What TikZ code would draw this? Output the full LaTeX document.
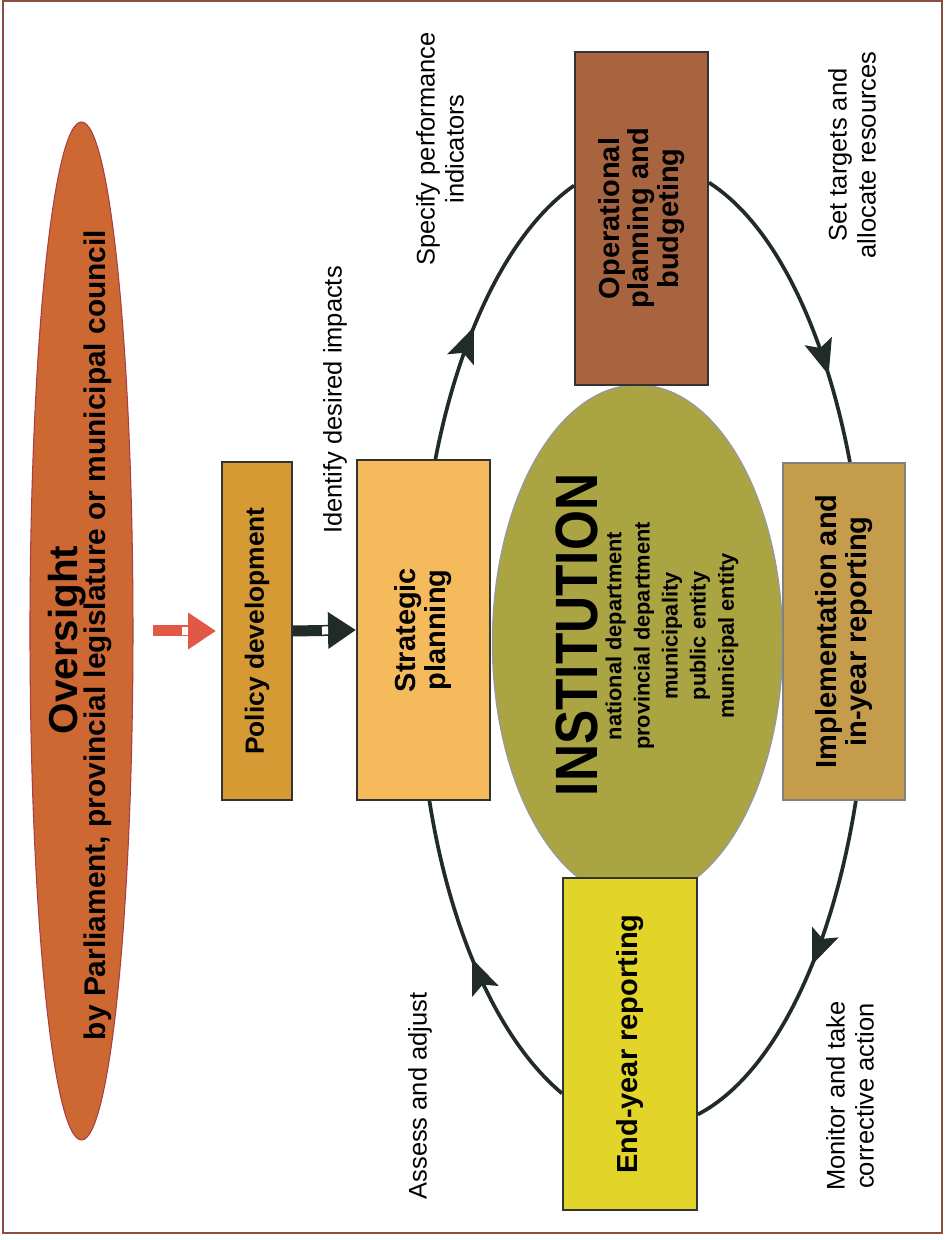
\documentclass[tikz,border=0pt]{standalone}
\usepackage{fontspec}
\setmainfont{Liberation Sans}
\newfontfamily\narrowfont[FakeStretch=0.86]{Liberation Sans}
\usepackage{tikz}
\usetikzlibrary{shapes.geometric,arrows.meta,decorations.markings,calc}

\definecolor{oversightfill}{RGB}{206,104,50}
\definecolor{oversightline}{RGB}{170,60,70}
\definecolor{redarrow}{RGB}{226,88,70}
\definecolor{darkarrow}{RGB}{34,44,38}
\definecolor{policyfill}{RGB}{214,154,52}
\definecolor{strategicfill}{RGB}{245,186,92}
\definecolor{institutionfill}{RGB}{170,164,66}
\definecolor{operationalfill}{RGB}{168,100,62}
\definecolor{implementfill}{RGB}{196,156,76}
\definecolor{endyearfill}{RGB}{226,212,40}
\definecolor{framecol}{RGB}{140,78,60}

\begin{document}
\begin{tikzpicture}[
    rotate=90, transform shape,
    box/.style={rectangle, draw=black!80, line width=1.1pt, align=center, inner sep=2pt,
        font=\fontsize{16.5}{17}\selectfont\bfseries},
    lbl/.style={align=center, inner sep=0pt, font=\fontsize{14.5}{16.5}\selectfont},
    loopline/.style={line width=2.1pt, color=darkarrow, postaction={decorate},
        decoration={markings, mark=at position #1 with {\arrow{Stealth[length=20pt,width=16pt,inset=4pt]}}}},
    blockarrow/.style={line width=0.22cm, -{Triangle[width=0.7cm,length=0.56cm]},
        postaction={decorate, decoration={markings,
            mark=at position -#1 with {\fill[white] (-0.06,-0.08) rectangle (0.06,0.08);}}}}
]
    \useasboundingbox (0,0) rectangle (24.8,18.94);
    \draw[framecol, line width=1.1pt] (0.14,0.1) rectangle (24.78,18.88);

    \node[ellipse, fill=oversightfill, draw=oversightline, line width=0.6pt, inner sep=0pt,
        minimum width=20.36cm, minimum height=2.06cm] (over) at (12.18,17.31) {};
    \node[font=\fontsize{23}{24}\selectfont\bfseries, inner sep=0pt] (overtitle) at (12.0,17.6) {Oversight};
    \node[font=\fontsize{17}{19}\selectfont\bfseries, inner sep=0pt] (oversub) at (12.1,16.98)
        {by Parliament, provincial legislature or municipal council};

    \node[box, fill=policyfill, minimum width=6.76cm, minimum height=1.4cm,
        font=\fontsize{15}{17}\selectfont\bfseries] (policy) at (12.18,13.8) {Policy development};
    \node[box, fill=strategicfill, minimum width=6.8cm, minimum height=2.66cm] (strat) at (12.2,10.47) {Strategic\\planning};

    \node[ellipse, fill=institutionfill, draw=gray!80, line width=0.8pt,
        minimum width=10.3cm, minimum height=5.8cm] (inst) at (11.95,6.19) {};
    \node[font=\narrowfont\fontsize{34}{36}\selectfont\bfseries, inner sep=0pt] (insttitle) at (12.1,7.4) {INSTITUTION};
    \node[align=center, inner sep=0pt, font=\fontsize{12.4}{16}\selectfont\bfseries] (instlist) at (12.08,5.5)
        {national department\\provincial department\\municipality\\public entity\\municipal entity};

    \node[box, fill=operationalfill, minimum width=6.66cm, minimum height=2.66cm] (oper) at (20.43,6.11) {Operational\\planning and\\budgeting};
    \node[box, fill=implementfill, draw=gray, minimum width=6.74cm, minimum height=2.44cm] (impl) at (12.17,2.06) {Implementation and\\in-year reporting};
    \node[box, fill=endyearfill, minimum width=6.64cm, minimum height=2.68cm] (endyr) at (3.92,6.34) {End-year reporting};

    \node[lbl] (impacts) at (16.8,12.24) {Identify desired impacts};
    \node[lbl] (specify) at (21.82,10.14) {Specify performance\\indicators};
    \node[lbl] (settargets) at (21.7,1.9) {Set targets and\\allocate resources};
    \node[lbl] (monitor) at (2.88,1.94) {Monitor and take\\corrective action};
    \node[lbl] (assess) at (2.88,10.54) {Assess and adjust};

    \draw[blockarrow=0.72cm, redarrow, shorten <=0.38cm, shorten >=0.1cm] (over.south) -- (policy.north);
    \draw[blockarrow=0.62cm, darkarrow] (policy.south) -- (strat.north);

    \draw[loopline=0.44] (strat.-4.6) .. controls +(2.596,-0.504) and +(-0.866,1.246) .. (oper.64.9);
    \draw[loopline=0.72] (oper.-62.6) .. controls +(-0.832,-1.3) and +(2.698,0.512) .. (impl.-2.5);
    \draw[loopline=0.47] (impl.184.1) .. controls +(-3.112,0.494) and +(0.778,-1.488) .. (endyr.224.4);
    \draw[loopline=0.5] (endyr.126.4) .. controls +(1.028,1.234) and +(-2.692,-0.426) .. (strat.182.9);
\end{tikzpicture}
\end{document}
